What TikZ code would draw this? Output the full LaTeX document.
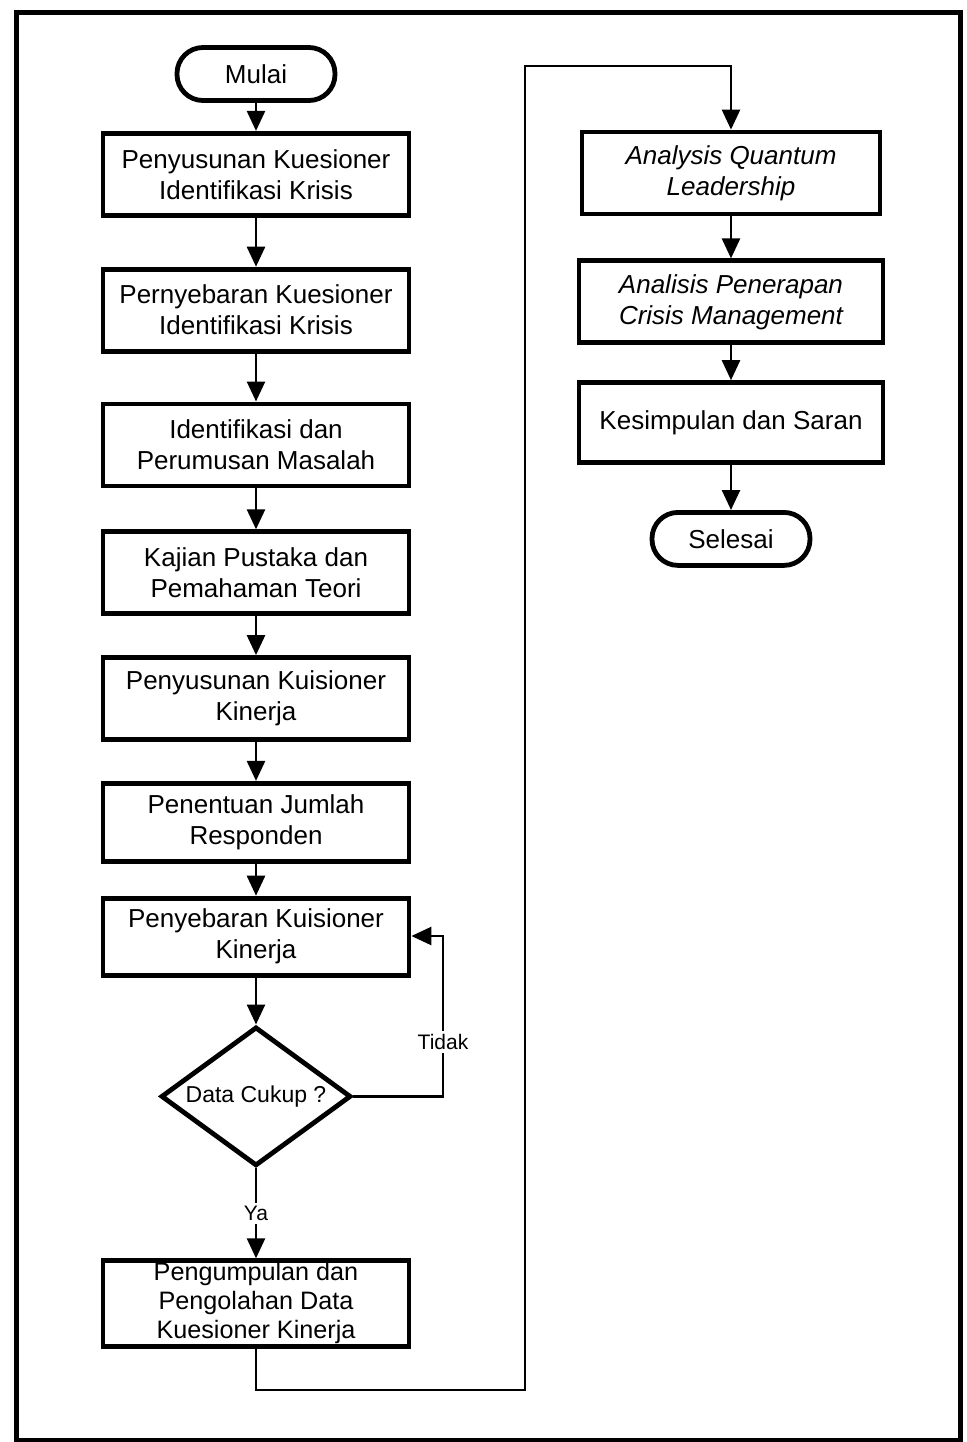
\documentclass[tikz,border=0pt]{standalone}
\usepackage{fontspec}
\setmainfont{Liberation Sans}
\usetikzlibrary{shapes.geometric}
\usetikzlibrary{positioning}
\usetikzlibrary{arrows.meta}
\tikzset{proc/.style={draw, line width=2.4pt, minimum width=153pt, minimum height=41pt,
                      align=center, inner sep=1pt, font=\fontsize{13}{15.5}\selectfont},
         procit/.style={proc, font=\fontsize{13}{15.5}\selectfont\itshape},
         term/.style={draw, line width=2.4pt, rounded corners=13pt, minimum width=79pt,
                      minimum height=26.5pt, font=\fontsize{13}{15.5}\selectfont},
         decide/.style={draw, diamond, aspect=1.37, line width=2.4pt, minimum width=95pt,
                        minimum height=69.5pt, inner sep=0pt, font=\fontsize{11.5}{14}\selectfont},
         flow/.style={line width=1.3pt, -{Triangle[length=10pt,width=9pt]}},
         lbl/.style={fill=white, inner sep=1.5pt, font=\fontsize{10.5}{12}\selectfont},
         frame/.style={line width=2.5pt},
         }
\begin{document}
\begin{tikzpicture}[x=0.5pt, y=-0.5pt]
\useasboundingbox (0,0) rectangle (967,1442);
\draw[frame] (16,12) rectangle (960,1440);

% kolom kiri
\node[term] (mulai) at (256,74) {Mulai};
\node[proc, below=14pt of mulai] (susun) {Penyusunan Kuesioner\\Identifikasi Krisis};
\node[proc, below=24.5pt of susun] (sebar) {Pernyebaran Kuesioner\\Identifikasi Krisis};
\node[proc, below=24pt of sebar] (identif) {Identifikasi dan\\Perumusan Masalah};
\node[proc, below=20.5pt of identif] (kajian) {Kajian Pustaka dan\\Pemahaman Teori};
\node[proc, below=19.5pt of kajian] (susunkin) {Penyusunan Kuisioner\\Kinerja};
\node[proc, minimum height=39pt, below=19.5pt of susunkin] (resp) {Penentuan Jumlah\\Responden};
\node[proc, minimum height=38.5pt, below=16pt of resp] (sebarkin) {Penyebaran Kuisioner\\Kinerja};
\node[decide, below=23.5pt of sebarkin] (cukup) {Data Cukup ?};
\node[proc, minimum height=39.5pt, below=45pt of cukup, font=\fontsize{12.6}{14.5}\selectfont] (olah)
     {Pengumpulan dan\\Pengolahan Data\\Kuesioner Kinerja};

% kolom kanan
\node[procit, minimum width=149pt] (quantum) at (731,173) {Analysis Quantum\\Leadership};
\node[procit, minimum width=152pt, below=21pt of quantum] (crisis) {Analisis Penerapan\\Crisis Management};
\node[proc, minimum width=152pt, minimum height=40pt, below=17.5pt of crisis] (simpul) {Kesimpulan dan Saran};
\node[term, below=22.5pt of simpul] (selesai) {Selesai};

\coordinate (bawah) at (525,1390);
\coordinate (atas) at (525,66);
\coordinate (balik) at (443,936);

\draw[flow] (mulai) -- (susun);
\draw[flow] (susun) -- (sebar);
\draw[flow] (sebar) -- (identif);
\draw[flow] (identif) -- (kajian);
\draw[flow] (kajian) -- (susunkin);
\draw[flow] (susunkin) -- (resp);
\draw[flow] (resp) -- (sebarkin);
\draw[flow] (sebarkin) -- (cukup);
\draw[flow] (cukup.east) -| node[lbl, pos=0.67] (tidak) {Tidak} (balik) -- (sebarkin.east |- balik);
\draw[flow] (cukup) -- node[lbl] (ya) {Ya} (olah);
\draw[flow] (olah.south) |- (bawah) -- (atas) -| (quantum.north);
\draw[flow] (quantum) -- (crisis);
\draw[flow] (crisis) -- (simpul);
\draw[flow] (simpul) -- (selesai);
\end{tikzpicture}
\end{document}
